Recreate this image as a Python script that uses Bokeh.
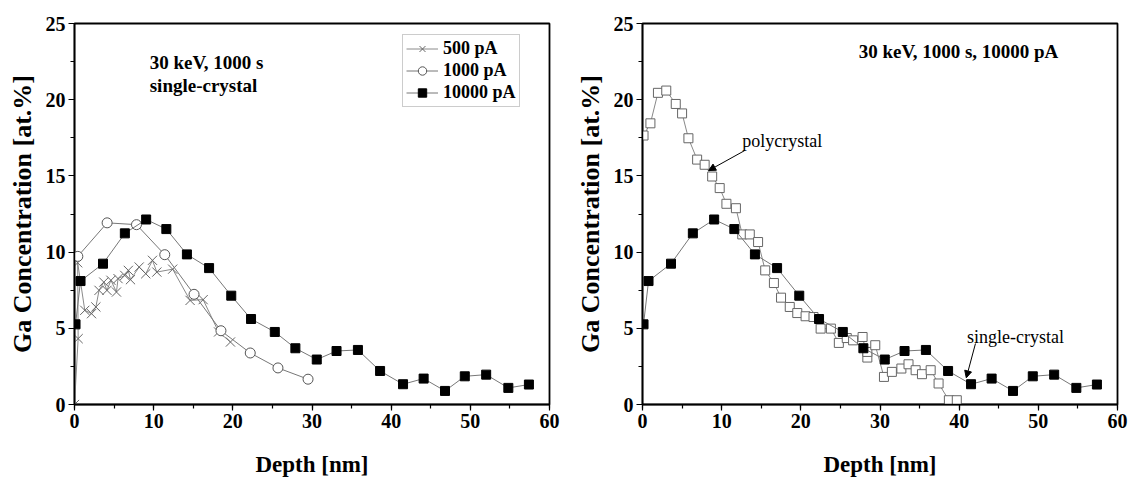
from bokeh.plotting import figure
from bokeh.layouts import row
from bokeh.models import Range1d, SingleIntervalTicker, Label, Arrow, NormalHead, Legend
from bokeh.embed import file_html
from bokeh.resources import INLINE

# ---- data ----
depth_10000 = [0.13, 0.76, 3.6, 6.36, 9.05, 11.6, 14.2, 17.0, 19.8, 22.3, 25.3, 27.9, 30.6,
               33.1, 35.8, 38.6, 41.5, 44.1, 46.8, 49.3, 52.0, 54.8, 57.4]
conc_10000 = [5.26, 8.1, 9.24, 11.23, 12.14, 11.51, 9.85, 8.95, 7.14, 5.61, 4.76, 3.69, 2.95,
              3.51, 3.58, 2.2, 1.33, 1.7, 0.89, 1.85, 1.96, 1.09, 1.31]

depth_1000 = [0.42, 4.12, 7.83, 11.4, 15.1, 18.5, 22.2, 25.7, 29.5]
conc_1000 = [9.72, 11.92, 11.8, 9.83, 7.23, 4.84, 3.38, 2.4, 1.66]

depth_500 = [0.0, 0.46, 0.4, 1.3, 2.15, 2.7, 3.1, 3.7, 4.1, 4.6, 5.3, 5.5, 6.35, 6.8, 7.07,
             8.17, 9.0, 9.85, 10.4, 12.4, 14.6, 16.25, 18.2, 19.7]
conc_500 = [0.0, 4.32, 9.3, 6.18, 5.96, 6.4, 7.49, 8.03, 7.49, 8.15, 7.38, 8.26, 8.47, 8.8, 8.19,
            9.02, 8.58, 9.46, 8.69, 8.88, 6.83, 6.88, 4.76, 4.1]

depth_poly = [0.13, 1.0, 1.95, 3.0, 4.2, 5.0, 5.8, 6.9, 7.85, 8.8, 9.75, 10.6, 11.8, 12.6, 13.55,
              14.6, 15.5, 16.6, 17.5, 18.6, 19.55, 20.6, 21.6, 22.5, 23.8, 24.8, 25.8, 26.6,
              27.8, 28.4, 28.4, 29.4, 30.5, 31.5, 32.7, 33.6, 34.5, 35.3, 36.4, 37.4, 38.7, 39.7]
conc_poly = [17.65, 18.45, 20.45, 20.6, 19.72, 19.1, 17.47, 16.07, 15.73, 14.96, 14.2, 13.17,
             12.88, 11.16, 11.16, 10.66, 8.8, 7.97, 7.01, 6.4, 6.0, 5.79, 5.74, 4.98, 4.98, 4.04,
             4.36, 4.21, 4.43, 3.08, 3.45, 3.89, 1.81, 2.14, 2.36, 2.64, 2.25, 1.99, 2.25, 1.38,
             0.28, 0.28]

x_label = "Depth [nm]"
y_label = "Ga Concentration [at.%]"

SERIF = "Liberation Serif"


def style(p):
    p.xgrid.visible = False
    p.ygrid.visible = False
    p.outline_line_color = "black"
    p.outline_line_width = 1.8
    p.background_fill_color = "white"
    p.border_fill_color = "white"
    p.xaxis.ticker = SingleIntervalTicker(interval=10, num_minor_ticks=2)
    p.yaxis.ticker = SingleIntervalTicker(interval=5, num_minor_ticks=2)
    for ax in (p.xaxis[0], p.yaxis[0]):
        ax.axis_line_width = 1.5
        ax.axis_line_color = "black"
        ax.major_tick_line_color = "black"
        ax.minor_tick_line_color = "black"
        ax.major_tick_line_width = 1.2
        ax.minor_tick_line_width = 1.2
        ax.major_tick_in = 0
        ax.minor_tick_in = 0
        ax.major_tick_out = 6
        ax.minor_tick_out = 4
        ax.major_label_text_font = SERIF
        ax.major_label_text_font_style = "bold"
        ax.major_label_text_font_size = "20px"
        ax.major_label_text_color = "black"
        ax.axis_label_text_font = SERIF
        ax.axis_label_text_font_style = "bold"
        ax.axis_label_text_color = "black"
    p.xaxis.major_label_standoff = 3
    p.yaxis.major_label_standoff = 3
    p.xaxis.axis_label = x_label
    p.yaxis.axis_label = y_label
    p.xaxis.axis_label_text_font_size = "23px"
    p.yaxis.axis_label_text_font_size = "26px"
    p.xaxis.axis_label_standoff = 21
    p.yaxis.axis_label_standoff = 6


# ---- left plot ----
p1 = figure(width=565, height=480, x_range=Range1d(0, 60), y_range=Range1d(0, 25),
            output_backend="svg", toolbar_location=None,
            min_border_left=74, min_border_right=16, min_border_top=23, min_border_bottom=76)
style(p1)

l500 = p1.line(depth_500, conc_500, line_color="#8a8a8a", line_width=1)
s500 = p1.scatter(depth_500, conc_500, marker="x", size=13, line_color="#666666", line_width=1)
l1000 = p1.line(depth_1000, conc_1000, line_color="#777777", line_width=1)
s1000 = p1.scatter(depth_1000, conc_1000, marker="circle", size=10, fill_color="white",
                   line_color="#555555", line_width=1)
l10000 = p1.line(depth_10000, conc_10000, line_color="#777777", line_width=1)
s10000 = p1.scatter(depth_10000, conc_10000, marker="square", size=9, fill_color="black",
                    line_color="black")

legend = Legend(items=[("500 pA", [l500, s500]), ("1000 pA", [l1000, s1000]),
                       ("10000 pA", [l10000, s10000])],
                location=(328, 297))
legend.label_text_font = SERIF
legend.label_text_font_style = "bold"
legend.label_text_font_size = "18px"
legend.label_text_color = "black"
legend.border_line_color = "#999999"
legend.border_line_width = 1
legend.padding = 3
legend.spacing = 1
legend.margin = 0
legend.glyph_width = 32
legend.glyph_height = 21
legend.label_height = 21
legend.label_standoff = 5
p1.add_layout(legend, "center")

p1.add_layout(Label(x=9.5, y=22.45, text="30 keV, 1000 s", text_font=SERIF,
                    text_font_style="bold", text_font_size="19px", text_baseline="middle",
                    text_color="black"))
p1.add_layout(Label(x=9.5, y=20.92, text="single-crystal", text_font=SERIF,
                    text_font_style="bold", text_font_size="19px", text_baseline="middle",
                    text_color="black"))

# ---- right plot ----
p2 = figure(width=564, height=480, x_range=Range1d(0, 60), y_range=Range1d(0, 25),
            output_backend="svg", toolbar_location=None,
            min_border_left=77, min_border_right=12, min_border_top=23, min_border_bottom=76)
style(p2)

p2.line(depth_poly, conc_poly, line_color="#888888", line_width=1)
p2.scatter(depth_poly, conc_poly, marker="square", size=9, fill_color="white",
           line_color="#666666", line_width=1)
p2.line(depth_10000, conc_10000, line_color="#777777", line_width=1)
p2.scatter(depth_10000, conc_10000, marker="square", size=9, fill_color="black",
           line_color="black")

p2.add_layout(Label(x=27.3, y=23.17, text="30 keV, 1000 s, 10000 pA", text_font=SERIF,
                    text_font_style="bold", text_font_size="19px", text_baseline="middle",
                    text_color="black"))
p2.add_layout(Label(x=12.6, y=17.3, text="polycrystal", text_font=SERIF,
                    text_font_size="18px", text_baseline="middle", text_color="black"))
p2.add_layout(Label(x=41.0, y=4.43, text="single-crystal", text_font=SERIF,
                    text_font_size="18px", text_baseline="middle", text_color="black"))
p2.add_layout(Arrow(end=NormalHead(size=7, fill_color="black", line_color="black"),
                    x_start=12.9, y_start=16.66, x_end=8.35, y_end=15.35,
                    line_color="black", line_width=1))
p2.add_layout(Arrow(end=NormalHead(size=7, fill_color="black", line_color="black"),
                    x_start=42.06, y_start=4.0, x_end=40.9, y_end=1.75,
                    line_color="black", line_width=1))

layout = row(p1, p2)
open("out.html", "w").write(file_html(layout, INLINE))
